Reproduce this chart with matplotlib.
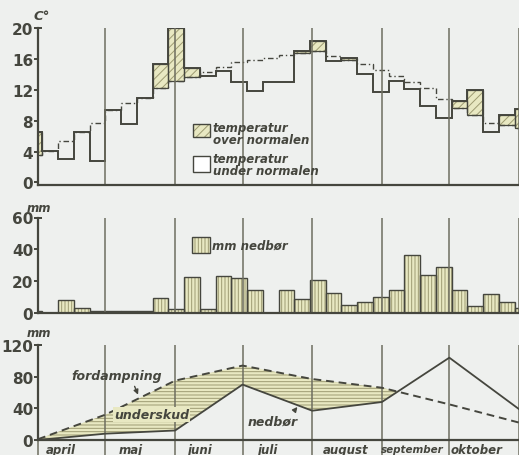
import numpy as np
import matplotlib.pyplot as plt
from matplotlib.patches import Rectangle

plt.rcParams['font.family'] = ['DejaVu Sans']
plt.rcParams['font.weight'] = 'bold'
plt.rcParams['hatch.linewidth'] = 0.7

# x axis in days from 1 April, weekly periods start on day -5 + 7k
months = ["april", "maj", "juni", "juli", "august", "september", "oktober"]
month_days = [30, 31, 30, 31, 31, 30, 31]
week0 = -5

temp_actual = [6.5, 4.1, 3.0, 6.5, 2.8, 9.4, 7.6, 11.0, 15.4, 20.0, 14.9, 13.8,
               14.5, 13.0, 11.9, 13.0, 13.0, 17.0, 18.4, 15.7, 16.2, 14.1, 11.7,
               13.2, 12.1, 9.9, 8.3, 10.6, 12.0, 6.5, 8.7, 9.5]
temp_normal = [3.5, 4.1, 5.4, 6.5, 7.7, 9.4, 10.3, 11.0, 12.2, 13.2, 13.7, 14.3,
               15.0, 15.6, 15.9, 16.1, 16.5, 16.8, 17.0, 16.4, 15.9, 15.4, 14.6,
               13.8, 13.0, 12.2, 10.8, 9.7, 8.8, 7.7, 7.4, 7.0]
precip = [1, 0, 8, 3, 1, 0.8, 0.8, 0.8, 9, 2.4, 22.7, 2.3, 23.3, 21.6, 14.2, 0,
          14.2, 8.5, 20.6, 12.3, 5, 6.8, 9.6, 14.4, 36.4, 23.7, 29, 14.4, 4.3,
          12.1, 6.8, 3]

# monthly cumulative values at month boundaries (1 Apr ... 1 Nov)
evap = [1, 32, 75, 94, 77, 66, 45, 22]
rain = [0, 8, 12, 70, 37, 48, 104, 39]

bg = '#eef0ee'
dark = '#45463e'
mline = '#6e6e60'
fill = '#e8e8c2'
hatchc = '#9d9b72'

mb = np.concatenate([[0], np.cumsum(month_days)])
edges = week0 + 7 * np.arange(len(temp_actual) + 1)
starts = edges[:-1]
ta = np.array(temp_actual)
tn = np.array(temp_normal)
ev = np.array(evap)
rn = np.array(rain)

fig = plt.figure(figsize=(5.19, 4.56), dpi=100, facecolor=bg)
L, W = 38 / 519, 481 / 519
ax1 = fig.add_axes([L, (456 - 185.7) / 456, W, 156.4 / 456])
ax2 = fig.add_axes([L, (456 - 313.7) / 456, W, 95.2 / 456])
ax3 = fig.add_axes([L, (456 - 441) / 456, W, 95 / 456])

for ax in (ax1, ax2, ax3):
    ax.set_facecolor(bg)
    ax.set_xlim(0, mb[-1])
    ax.spines['top'].set_visible(False)
    ax.spines['right'].set_visible(False)
    ax.spines['left'].set_linewidth(1.6)
    ax.spines['bottom'].set_linewidth(1.6)
    ax.spines['left'].set_color(dark)
    ax.spines['bottom'].set_color(dark)
    ax.set_xticks([])
    ax.tick_params(axis='y', length=3, width=1.4, pad=0.5, labelsize=11,
                   colors=dark)

# ---- temperature
ax1.set_ylim(-0.31, 20)
ax1.set_yticks([0, 4, 8, 12, 16, 20])
ax1.vlines(mb[1:], -0.31, 20, color=mline, lw=1.1, clip_on=False)
over = ta > tn
ax1.bar(starts[over], (ta - tn)[over], bottom=tn[over], width=7, align='edge',
        color=fill, edgecolor=hatchc, hatch='////', lw=0)
ax1.bar(starts[over], (ta - tn)[over], bottom=tn[over], width=7, align='edge',
        fill=False, edgecolor=dark, lw=0.9)
ax1.stairs(tn, edges, baseline=None, color=dark, lw=1.0, ls=(0, (4, 2, 1, 2)))
ax1.stairs(ta, edges, baseline=None, color=dark, lw=1.4)
ax1.hlines(20, 0, 1.6, color=dark, lw=1.4, clip_on=False)
ax1.text(1.8, 21.7, "C°", fontsize=9.5, style='italic', ha='center', va='center',
         color=dark)
ax1.add_patch(Rectangle((69.1, 5.85), 7.4, 1.75, facecolor=fill, edgecolor=hatchc,
                        hatch='////', lw=0))
ax1.add_patch(Rectangle((69.1, 5.85), 7.4, 1.75, fill=False, edgecolor=dark, lw=1))
ax1.text(77.8, 6.4, "temperatur\nover normalen", fontsize=8.5, style='italic',
         va='center', ha='left', linespacing=0.9, color=dark)
ax1.add_patch(Rectangle((69.1, 1.3), 7.4, 2.15, facecolor='white',
                        edgecolor=dark, lw=1))
ax1.text(77.8, 2.35, "temperatur\nunder normalen", fontsize=8.5, style='italic',
         va='center', ha='left', linespacing=0.9, color=dark)

# ---- precipitation
ax2.set_ylim(0, 60)
ax2.set_yticks([0, 20, 40, 60])
ax2.vlines(mb[1:], 0, 60, color=mline, lw=1.1, clip_on=False)
ax2.bar(starts, precip, width=7, align='edge', color=fill, edgecolor=hatchc,
        hatch='|||||', lw=0)
ax2.bar(starts, precip, width=7, align='edge', fill=False, edgecolor=dark, lw=1.0)
ax2.hlines(60, 0, 1.6, color=dark, lw=1.4, clip_on=False)
ax2.text(0.3, 66.5, "mm", fontsize=8.5, style='italic', ha='center', va='center',
         color=dark)
ax2.add_patch(Rectangle((68.6, 37.5), 7.9, 10.5, facecolor=fill, edgecolor=hatchc,
                        hatch='|||||', lw=0))
ax2.add_patch(Rectangle((68.6, 37.5), 7.9, 10.5, fill=False, edgecolor=dark, lw=1))
ax2.text(77.3, 42.7, "mm nedbør", fontsize=8.5, style='italic', va='center',
         ha='left', color=dark)

# ---- evaporation / precipitation balance
ax3.set_ylim(0, 120)
ax3.set_yticks([0, 40, 80, 120])
tr = ax3.get_xaxis_transform()
ax3.vlines(mb, -0.16, 1, transform=tr, color=mline, lw=1.1, clip_on=False)
ax3.fill_between(mb, rn, ev, where=ev > rn, interpolate=True, facecolor=fill,
                 edgecolor=hatchc, hatch='-----', lw=0)
ax3.plot(mb, ev, color=dark, lw=1.4, ls=(0, (4, 2.5)))
ax3.plot(mb, rn, color=dark, lw=1.3)
ax3.hlines(120, 0, 1.6, color=dark, lw=1.4, clip_on=False)
ax3.text(0.3, 136, "mm", fontsize=8.5, style='italic', ha='center', va='center',
         color=dark)
ax3.text(35, 81, "fordampning", fontsize=9, style='italic', ha='center',
         va='center', color=dark)
ax3.annotate("", xy=(45, 54), xytext=(42.5, 71),
             arrowprops=dict(arrowstyle='-|>', color=dark, lw=1,
                             mutation_scale=7))
ax3.text(50.6, 32.6, "underskud", fontsize=9, style='italic', ha='center',
         va='center', color=dark,
         bbox=dict(facecolor=fill, edgecolor='none', pad=0.6))
ax3.text(104.5, 23.5, "nedbør", fontsize=9, style='italic', ha='center',
         va='center', color=dark)
ax3.annotate("", xy=(116.2, 44.5), xytext=(113.5, 35),
             arrowprops=dict(arrowstyle='-|>', color=dark, lw=1,
                             mutation_scale=7))

label_x = [10.2, 41.4, 72, 102, 137, 166.5, 195]
for name, x in zip(months, label_x):
    ax3.text(x, -0.1, name, transform=tr, fontsize=7.5 if name == "september" else 8.5,
             style='italic', ha='center', va='center', color=dark)

fig.savefig("out.png", dpi=100, facecolor=bg)
